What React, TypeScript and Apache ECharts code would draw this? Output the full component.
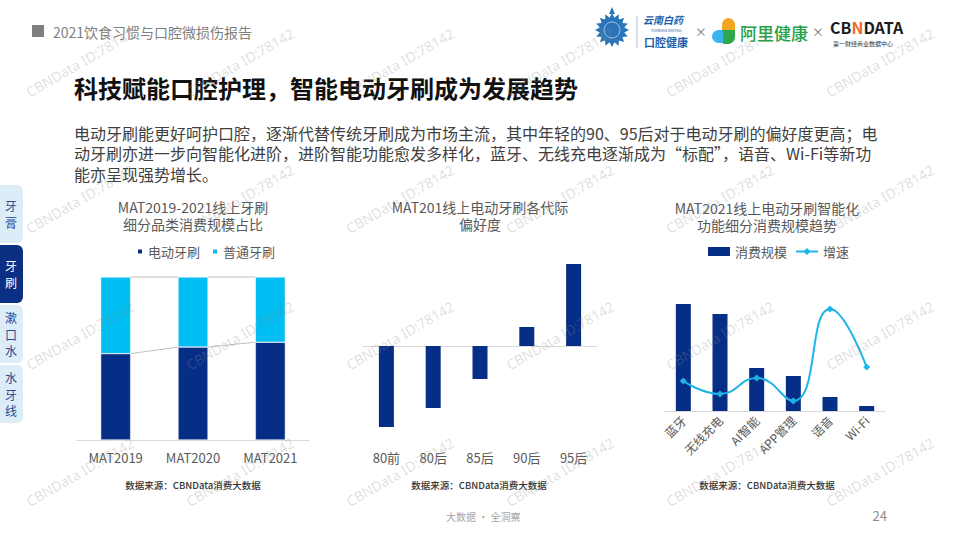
import React, { useEffect, useRef } from 'react';
import * as echarts from 'echarts';

// ---------- data ----------
const yearCats = ['MAT2019', 'MAT2020', 'MAT2021'];
const electricShare = [53, 57, 60];
const manualShare = [47, 43, 40];

const genCats = ['80前', '80后', '85后', '90后', '95后'];
const genPreference = [-81, -62, -33, 19, 82];

const featureCats = ['蓝牙', '无线充电', 'AI智能', 'APP管理', '语音', 'Wi-Fi'];
const featureScale = [107, 97, 43, 35, 14, 5];
const featureGrowth = [30, 17, 33, 10, 102, 44];

const paragraphLines = [
  '电动牙刷能更好呵护口腔，逐渐代替传统牙刷成为市场主流，其中年轻的90、95后对于电动牙刷的偏好度更高；电',
  '动牙刷亦进一步向智能化进阶，进阶智能功能愈发多样化，蓝牙、无线充电逐渐成为“标配”，语音、Wi-Fi等新功',
  '能亦呈现强势增长。',
];
const sideTabs = ['牙膏', '牙刷', '漱口水', '水牙线'];

const FF = '"Noto Sans CJK SC", "Noto Sans", sans-serif';
const NAVY = '#062e86';
const CYAN = '#00bdf2';
const LINE = '#1db5e8';

function txt(text: string, x: number, y: number, o: any = {}) {
  return {
    type: 'text',
    x,
    y,
    rotation: o.rotation || 0,
    z: o.z || 10,
    silent: true,
    style: {
      text,
      fill: o.fill || '#595959',
      fontSize: o.size || 12,
      fontWeight: o.weight || 'normal',
      fontFamily: o.family || FF,
      fontStyle: o.style || 'normal',
      textAlign: o.align || 'left',
      textVerticalAlign: o.valign || 'middle',
      lineHeight: o.lineHeight,
      rich: o.rich,
    },
  };
}

export default function App() {
  const ref = useRef<HTMLDivElement>(null);
  useEffect(() => {
    const chart = echarts.init(ref.current!, null, { renderer: 'svg', width: 960, height: 540 });

    const graphics: any[] = [];
    // header
    graphics.push({ type: 'rect', shape: { x: 32, y: 25, width: 12, height: 12 }, style: { fill: '#7f7f7f' } });
    graphics.push(txt('2021饮食习惯与口腔微损伤报告', 53, 31.5, { size: 14, fill: '#7f7f7f' }));
    graphics.push(txt('科技赋能口腔护理，智能电动牙刷成为发展趋势', 74, 87, { size: 24, weight: 'bold', fill: '#111111' }));
    paragraphLines.forEach((l, i) => {
      graphics.push(txt(l, 74, 133 + i * 20.3, { size: 16, fill: '#404040' }));
    });

    // side tabs
    sideTabs.forEach((t, i) => {
      const y0 = 185 + i * 60;
      const active = i === 1;
      graphics.push({
        type: 'rect',
        shape: { x: 0, y: y0, width: 23, height: 58, r: [0, 6, 6, 0] },
        style: { fill: active ? '#0b2f82' : '#dcedf8' },
      });
      graphics.push(
        txt(t.split('').join('\n'), 11, y0 + 29, {
          size: 12,
          align: 'center',
          fill: active ? '#ffffff' : '#2a4a94',
          lineHeight: 16.5,
        })
      );
    });

    // logos (approximate)
    const pts: number[][] = [];
    for (let k = 0; k < 32; k++) {
      const a = (k / 32) * Math.PI * 2;
      const r = k % 2 === 0 ? 17 : 12.5;
      pts.push([612 + r * Math.sin(a), 30 - r * Math.cos(a)]);
    }
    graphics.push({ type: 'polygon', shape: { points: pts }, style: { fill: '#2a74b9' } });
    graphics.push({ type: 'circle', shape: { cx: 612, cy: 30, r: 8 }, style: { fill: 'none', stroke: '#9cc3e6', lineWidth: 1 } });
    graphics.push({ type: 'polygon', shape: { points: [[609, 14], [612, 7], [615, 14]] }, style: { fill: '#2a74b9' } });
    graphics.push({ type: 'line', shape: { x1: 637, y1: 16, x2: 637, y2: 48 }, style: { stroke: '#a9bfd6', lineWidth: 1 } });
    graphics.push(txt('云南白药', 643, 19, { size: 10, weight: 'bold', fill: '#1d5ea8', style: 'italic' }));
    graphics.push(txt('YUNNAN BAIYAO', 651, 30, { size: 4, fill: '#1d5ea8' }));
    graphics.push(txt('口腔健康', 644, 41.5, { size: 11, weight: 'bold', fill: '#1d5ea8' }));
    graphics.push(txt('×', 701, 31, { size: 12, fill: '#777777', align: 'center' }));
    graphics.push({ type: 'rect', shape: { x: 722, y: 18, width: 13, height: 13, r: [7, 7, 0, 0] }, style: { fill: '#f5a623' } });
    graphics.push({ type: 'rect', shape: { x: 712, y: 30, width: 11, height: 13, r: [7, 0, 0, 7] }, style: { fill: '#3ab4ea' } });
    graphics.push({ type: 'rect', shape: { x: 723, y: 30, width: 12, height: 14, r: [0, 0, 7, 0] }, style: { fill: '#2ea84e' } });
    graphics.push(txt('阿里健康', 740, 32, { size: 17, weight: 500, fill: '#23a146' }));
    graphics.push(txt('×', 818, 31, { size: 12, fill: '#777777', align: 'center' }));
    graphics.push(
      txt('{a|CB}{b|N}{a|DATA}', 830, 27, {
        size: 16,
        weight: 'bold',
        fill: '#1a1a1a',
        rich: {
          a: { fontSize: 16, fontWeight: 'bold', fill: '#1a1a1a', fontFamily: FF },
          b: { fontSize: 16, fontWeight: 'bold', fill: '#f06a1e', fontFamily: FF },
        },
      })
    );
    graphics.push(txt('第一财经商业数据中心', 833, 43, { size: 6, fill: '#333333' }));

    // chart titles & sources
    graphics.push(txt('MAT2019-2021线上牙刷\n细分品类消费规模占比', 193, 215.5, { size: 14, align: 'center', lineHeight: 17 }));
    graphics.push(txt('MAT201线上电动牙刷各代际\n偏好度', 480, 215.5, { size: 14, align: 'center', lineHeight: 17 }));
    graphics.push(txt('MAT2021线上电动牙刷智能化\n功能细分消费规模趋势', 767, 216, { size: 14, align: 'center', lineHeight: 17 }));
    [193, 479, 767].forEach((x) => {
      graphics.push(txt('数据来源：CBNData消费大数据', x, 485, { size: 9.5, align: 'center', fill: '#333333', weight: 500 }));
    });

    // footer
    graphics.push(txt('大数据 · 全洞察', 446, 516, { size: 10, fill: '#a6a6a6' }));
    graphics.push(txt('24', 887, 515, { size: 13, fill: '#8c8c8c', align: 'right' }));

    // watermarks
    for (let j = 0; j < 4; j++) {
      for (let k = 0; k < 6; k++) {
        graphics.push(
          txt('CBNData ID:78142', 80 + 160 * k, 62.5 + 136.5 * j, {
            size: 14,
            align: 'center',
            fill: 'rgba(140,140,140,0.28)',
            rotation: Math.PI / 6,
            family: '"Noto Sans", sans-serif',
            z: 100,
          })
        );
      }
    }

    const axisLabel = { color: '#595959', fontSize: 13, fontFamily: FF };

    const option: any = {
      animation: false,
      textStyle: { fontFamily: FF },
      grid: [
        { left: 77, top: 277, width: 232, height: 163 },
        { left: 363, top: 258, width: 234, height: 182 },
        { left: 665, top: 301, width: 220, height: 110 },
      ],
      legend: [
        {
          left: 131,
          top: 240,
          itemWidth: 6,
          itemHeight: 6,
          itemGap: 11,
          icon: 'rect',
          data: ['电动牙刷', '普通牙刷'],
          textStyle: { color: '#595959', fontSize: 13, fontFamily: FF },
        },
        {
          left: 703,
          top: 240,
          itemWidth: 22,
          itemHeight: 9,
          itemGap: 8,
          data: [{ name: '消费规模', icon: 'rect' }, { name: '增速' }],
          textStyle: { color: '#595959', fontSize: 13, fontFamily: FF },
        },
      ],
      xAxis: [
        {
          type: 'category',
          gridIndex: 0,
          data: yearCats,
          axisLine: { lineStyle: { color: '#d9d9d9' } },
          axisTick: { show: false },
          axisLabel: { ...axisLabel, margin: 11 },
        },
        {
          type: 'category',
          gridIndex: 1,
          data: genCats,
          position: 'bottom',
          axisLine: { onZero: true, lineStyle: { color: '#d9d9d9' } },
          axisTick: { show: false },
          axisLabel: { show: false },
        },
        {
          type: 'category',
          gridIndex: 1,
          data: genCats,
          position: 'bottom',
          axisLine: { show: false, onZero: false },
          axisTick: { show: false },
          axisLabel: { ...axisLabel, margin: 11 },
        },
        {
          type: 'category',
          gridIndex: 2,
          data: featureCats,
          axisLine: { lineStyle: { color: '#d9d9d9' } },
          axisTick: { show: false },
          axisLabel: { ...axisLabel, fontSize: 12, rotate: 45, margin: 7 },
        },
      ],
      yAxis: [
        { type: 'value', gridIndex: 0, min: 0, max: 100, show: false },
        { type: 'value', gridIndex: 1, min: -94, max: 88, show: false },
        { type: 'value', gridIndex: 2, min: 0, max: 110, show: false },
      ],
      series: [
        {
          name: '电动牙刷',
          type: 'bar',
          xAxisIndex: 0,
          yAxisIndex: 0,
          stack: 's1',
          data: electricShare,
          barWidth: 30,
          itemStyle: { color: NAVY, borderColor: '#ffffff', borderWidth: 0.5 },
        },
        {
          name: '普通牙刷',
          type: 'bar',
          xAxisIndex: 0,
          yAxisIndex: 0,
          stack: 's1',
          data: manualShare,
          barWidth: 30,
          itemStyle: { color: CYAN, borderColor: '#ffffff', borderWidth: 0.5 },
        },
        {
          name: 'serieslines',
          type: 'custom',
          xAxisIndex: 0,
          yAxisIndex: 0,
          silent: true,
          z: 1,
          data: electricShare.slice(0, -1).map((v, i) => [i, v, electricShare[i + 1], 100]),
          renderItem: (params: any, api: any) => {
            const i = api.value(0);
            const a = api.value(1);
            const b = api.value(2);
            const t = api.value(3);
            const half = 15;
            const p1 = api.coord([i, t]);
            const p2 = api.coord([i + 1, t]);
            const q1 = api.coord([i, a]);
            const q2 = api.coord([i + 1, b]);
            return {
              type: 'group',
              children: [
                {
                  type: 'line',
                  shape: { x1: p1[0] + half, y1: p1[1], x2: p2[0] - half, y2: p2[1] },
                  style: { stroke: '#bfbfbf', lineWidth: 1 },
                },
                {
                  type: 'line',
                  shape: { x1: q1[0] + half, y1: q1[1], x2: q2[0] - half, y2: q2[1] },
                  style: { stroke: '#bfbfbf', lineWidth: 1 },
                },
              ],
            };
          },
        },
        {
          name: '偏好度',
          type: 'bar',
          xAxisIndex: 2,
          yAxisIndex: 1,
          data: genPreference,
          barWidth: 15,
          itemStyle: { color: NAVY },
        },
        {
          name: '消费规模',
          type: 'bar',
          xAxisIndex: 3,
          yAxisIndex: 2,
          data: featureScale,
          barWidth: 15,
          itemStyle: { color: NAVY },
        },
        {
          name: '增速',
          type: 'line',
          xAxisIndex: 3,
          yAxisIndex: 2,
          data: featureGrowth,
          smooth: true,
          symbol: 'diamond',
          symbolSize: 7,
          lineStyle: { color: LINE, width: 2 },
          itemStyle: { color: LINE },
        },
      ],
      graphic: graphics,
    };

    chart.setOption(option);
    return () => chart.dispose();
  }, []);
  return (
    <div
      ref={ref}
      style={{ position: 'fixed', left: 0, top: 0, width: 960, height: 540, background: '#ffffff' }}
    />
  );
}
